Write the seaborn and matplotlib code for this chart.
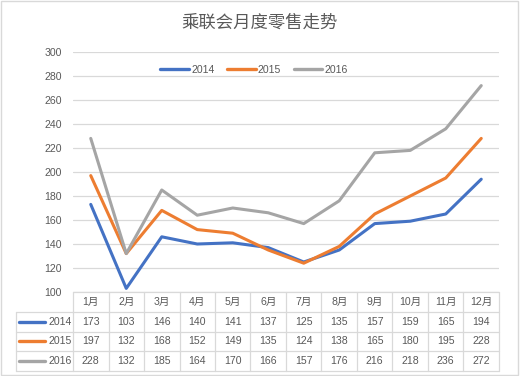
import numpy as np
import pandas as pd
import seaborn as sns
import matplotlib.pyplot as plt
from matplotlib.transforms import blended_transform_factory
from matplotlib.patches import Rectangle
from matplotlib.lines import Line2D

title = "乘联会月度零售走势"
months = [f"{i}月" for i in range(1, 13)]
years = ["2014", "2015", "2016"]
v2014 = [173, 103, 146, 140, 141, 137, 125, 135, 157, 159, 165, 194]
v2015 = [197, 132, 168, 152, 149, 135, 124, 138, 165, 180, 195, 228]
v2016 = [228, 132, 185, 164, 170, 166, 157, 176, 216, 218, 236, 272]
colors = ["#4472C4", "#ED7D31", "#A5A5A5"]

sns.set_theme(style="white")
plt.rcParams["font.family"] = ["Liberation Sans", "Noto Sans CJK SC", "DejaVu Sans"]

W, H = 520, 376
fig = plt.figure(figsize=(W / 100, H / 100), dpi=100)
ax = fig.add_axes([73 / W, 1 - 292 / H, 426 / W, 240 / H])

series = [v2014, v2015, v2016]
df = pd.DataFrame({
    "month": np.tile(np.arange(12), 3),
    "value": v2014 + v2015 + v2016,
    "year": np.repeat(years, 12),
})
sns.lineplot(data=df, x="month", y="value", hue="year", palette=colors,
             linewidth=2.2, ax=ax, sort=False, legend=True)

txt = "#595959"
grid = "#d9d9d9"
fs = 7.6
ax.set_xlim(-0.5, 11.5)
ax.set_ylim(100, 300)
ax.set_yticks(range(100, 301, 20))
ax.set_xticks([])
ax.set_xlabel("")
ax.set_ylabel("")
ax.yaxis.grid(True, color=grid, lw=0.9)
ax.set_axisbelow(True)
for s in ax.spines.values():
    s.set_visible(False)
ax.tick_params(axis="y", length=0, pad=8, labelsize=fs, labelcolor=txt)

leg = ax.legend(loc="center", bbox_to_anchor=(0.425, 0.925), ncol=3, frameon=False,
                fontsize=fs, handlelength=2.7, handletextpad=0.2, columnspacing=1.2)
for t in leg.get_texts():
    t.set_color(txt)
for h in leg.legend_handles:
    h.set_linewidth(2.4)

fig.text(0.5, 1 - 23 / H, title, ha="center", va="center", fontsize=12.5,
         color=txt, family=["Noto Sans CJK SC", "DejaVu Sans"])

# data table
def ay(px):
    return (292 - px) / 240.0

rows = [292, 312, 331.5, 351, 370.5]
tb = blended_transform_factory(ax.transData, ax.transAxes)
ta = ax.transAxes
lx = (16 - 73) / 426.0
lw = 0.9
# horizontal lines
ax.add_line(Line2D([-0.5, 11.5], [ay(rows[0])] * 2, transform=tb, color=grid, lw=lw, clip_on=False))
for r in rows[1:]:
    ax.add_line(Line2D([lx, 1], [ay(r)] * 2, transform=ta, color=grid, lw=lw, clip_on=False))
# vertical lines
for i in range(13):
    ax.add_line(Line2D([i - 0.5, i - 0.5], [ay(rows[0]), ay(rows[-1])], transform=tb,
                       color=grid, lw=lw, clip_on=False))
ax.add_line(Line2D([lx, lx], [ay(rows[1]), ay(rows[-1])], transform=ta, color=grid, lw=lw, clip_on=False))

# header
hy = ay((rows[0] + rows[1]) / 2)
for i, m in enumerate(months):
    ax.text(i, hy, m, transform=tb, ha="center", va="center", fontsize=fs, color=txt)
# rows
for k, (yr, vals, c) in enumerate(zip(years, series, colors)):
    cy = ay((rows[k + 1] + rows[k + 2]) / 2)
    ax.add_line(Line2D([(19 - 73) / 426, (45 - 73) / 426], [cy, cy], transform=ta,
                       color=c, lw=2.4, clip_on=False))
    ax.text((71.5 - 73) / 426, cy, yr, transform=ta, ha="right", va="center", fontsize=fs, color=txt)
    for i, v in enumerate(vals):
        ax.text(i, cy, str(v), transform=tb, ha="center", va="center", fontsize=fs, color=txt)

fig.add_artist(Rectangle((0.002, 0.003), 0.995, 0.994, transform=fig.transFigure,
                         fill=False, edgecolor=grid, lw=1))

fig.savefig("out.png", dpi=100)
